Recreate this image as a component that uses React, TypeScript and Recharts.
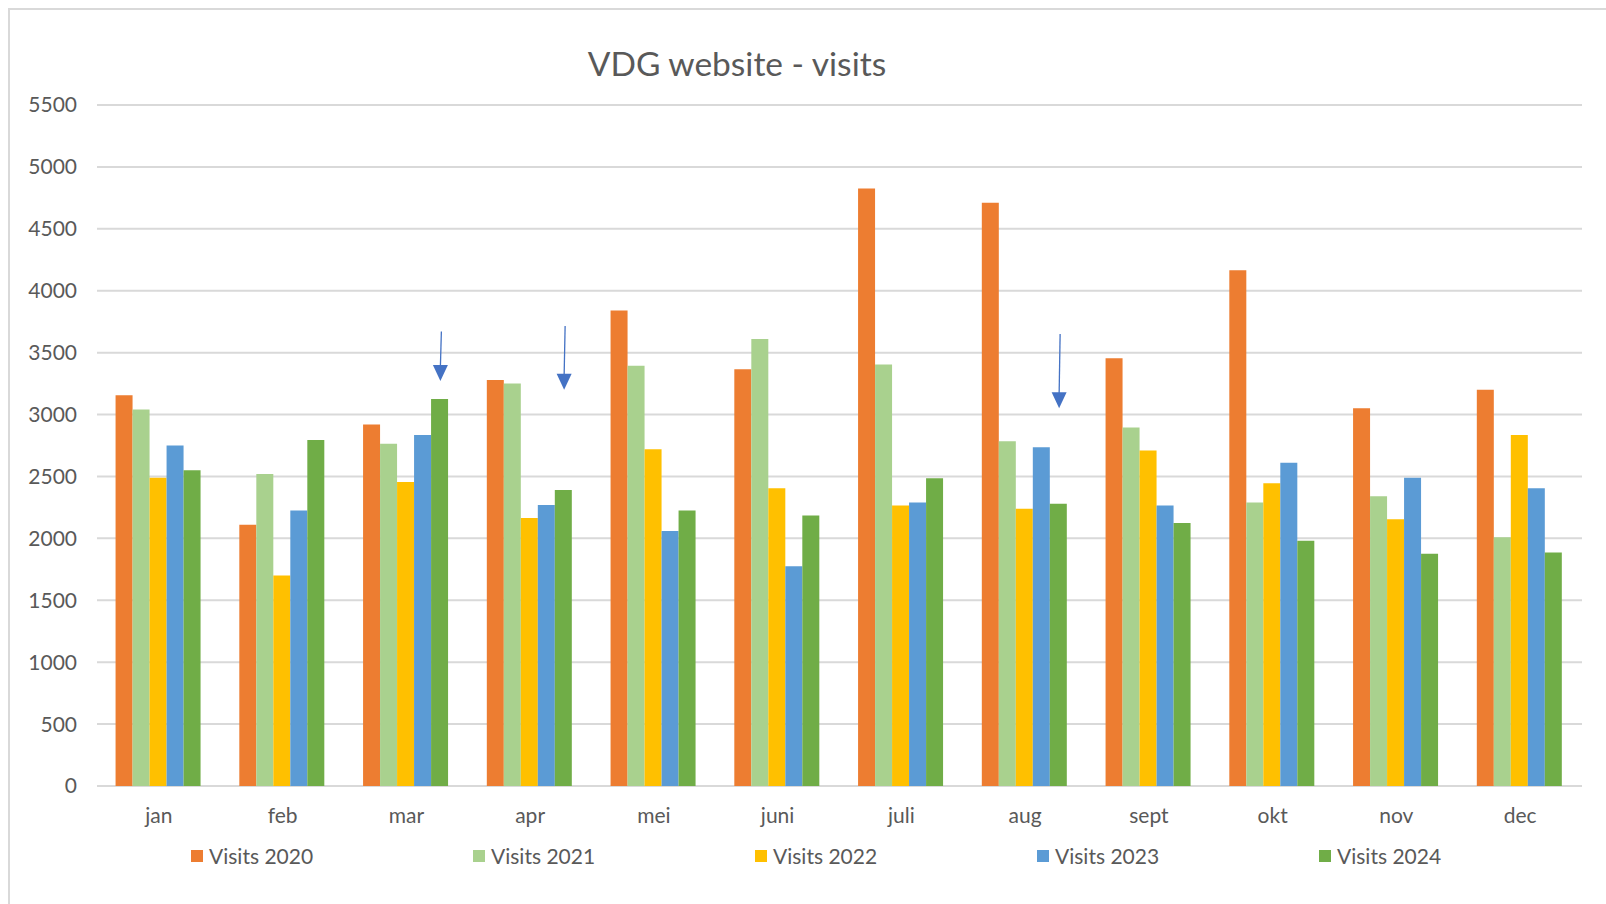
import { BarChart, Bar, XAxis, YAxis, CartesianGrid, ReferenceLine } from "recharts";

const months = ["jan", "feb", "mar", "apr", "mei", "juni", "juli", "aug", "sept", "okt", "nov", "dec"];
const visits2020 = [3155, 2110, 2920, 3280, 3840, 3365, 4825, 4710, 3455, 4165, 3050, 3200];
const visits2021 = [3040, 2520, 2765, 3250, 3395, 3610, 3405, 2785, 2895, 2290, 2340, 2010];
const visits2022 = [2490, 1700, 2455, 2165, 2720, 2405, 2265, 2240, 2710, 2445, 2155, 2835];
const visits2023 = [2750, 2225, 2835, 2270, 2060, 1775, 2290, 2735, 2265, 2610, 2490, 2405];
const visits2024 = [2550, 2795, 3125, 2390, 2225, 2185, 2485, 2280, 2125, 1980, 1875, 1885];
const yTicks = [0, 500, 1000, 1500, 2000, 2500, 3000, 3500, 4000, 4500, 5000, 5500];

// blue annotation arrows (month, start value, tip value)
const arrowMonths = ["mar", "apr", "aug"];
const arrowFrom = [3670, 3715, 3650];
const arrowTo = [3270, 3200, 3050];

const series = [
  { key: "v2020", name: "Visits 2020", color: "#ED7D31" },
  { key: "v2021", name: "Visits 2021", color: "#A9D18E" },
  { key: "v2022", name: "Visits 2022", color: "#FFC000" },
  { key: "v2023", name: "Visits 2023", color: "#5B9BD5" },
  { key: "v2024", name: "Visits 2024", color: "#70AD47" },
];

const data = months.map((m, i) => ({
  month: m,
  v2020: visits2020[i],
  v2021: visits2021[i],
  v2022: visits2022[i],
  v2023: visits2023[i],
  v2024: visits2024[i],
}));

const FONT = "Lato, 'Open Sans', sans-serif";
const TEXT = "#595959";

// arrow drawn over the 2024 bar of the month (two bar widths right of band centre)
const ArrowShape = (props: any) => {
  const dx = 34;
  const x = props.x1 + dx;
  const { y1, y2 } = props;
  return (
    <g>
      <line x1={x + 1} y1={y1} x2={x} y2={y2 - 14} stroke="#4472C4" strokeWidth={1.3} />
      <path d={`M ${x - 7.5} ${y2 - 16} L ${x + 7.5} ${y2 - 16} L ${x} ${y2} Z`} fill="#4472C4" />
    </g>
  );
};

export default function App() {
  return (
    <div style={{ position: "absolute", left: 0, top: 0, width: 1606, height: 904, fontFamily: FONT, background: "#fff" }}>
      <div
        style={{
          position: "absolute",
          left: 8,
          top: 8,
          width: 1598,
          height: 896,
          borderTop: "2px solid #d9d9d9",
          borderLeft: "2px solid #d9d9d9",
          boxSizing: "border-box",
        }}
      />
      <div
        style={{
          position: "absolute",
          left: 0,
          width: 1474,
          top: 47,
          textAlign: "center",
          fontSize: 33.5,
          lineHeight: 1,
          color: TEXT,
        }}
      >
        VDG website - visits
      </div>
      <div style={{ position: "absolute", left: 0, top: 0 }}>
        <BarChart
          width={1606}
          height={904}
          data={data}
          margin={{ top: 105, right: 24, bottom: 78, left: 0 }}
          barCategoryGap="15%"
          barGap={0}
        >
          <CartesianGrid vertical={false} stroke="#d9d9d9" strokeWidth={2} />
          <XAxis
            dataKey="month"
            height={40}
            axisLine={false}
            tickLine={false}
            tickSize={0}
            tickMargin={22}
            tick={{ fill: TEXT, fontSize: 21, fontFamily: FONT }}
          />
          <YAxis
            width={97}
            domain={[0, 5500]}
            ticks={yTicks}
            axisLine={false}
            tickLine={false}
            tickSize={0}
            tickMargin={20}
            tick={{ fill: TEXT, fontSize: 21, fontFamily: FONT }}
          />
          {series.map((s) => (
            <Bar key={s.key} dataKey={s.key} name={s.name} fill={s.color} isAnimationActive={false} />
          ))}
          {arrowMonths.map((m, i) => (
            <ReferenceLine
              key={m}
              segment={[
                { x: m, y: arrowFrom[i] },
                { x: m, y: arrowTo[i] },
              ]}
              shape={ArrowShape}
            />
          ))}
        </BarChart>
      </div>
      <div style={{ position: "absolute", left: 191, top: 845, display: "flex" }}>
        {series.map((s) => (
          <div key={s.key} style={{ width: 282, display: "flex", alignItems: "center", fontSize: 21, lineHeight: 1, color: TEXT }}>
            <span style={{ width: 12, height: 12, background: s.color, marginRight: 6, display: "inline-block" }} />
            <span>{s.name}</span>
          </div>
        ))}
      </div>
    </div>
  );
}
